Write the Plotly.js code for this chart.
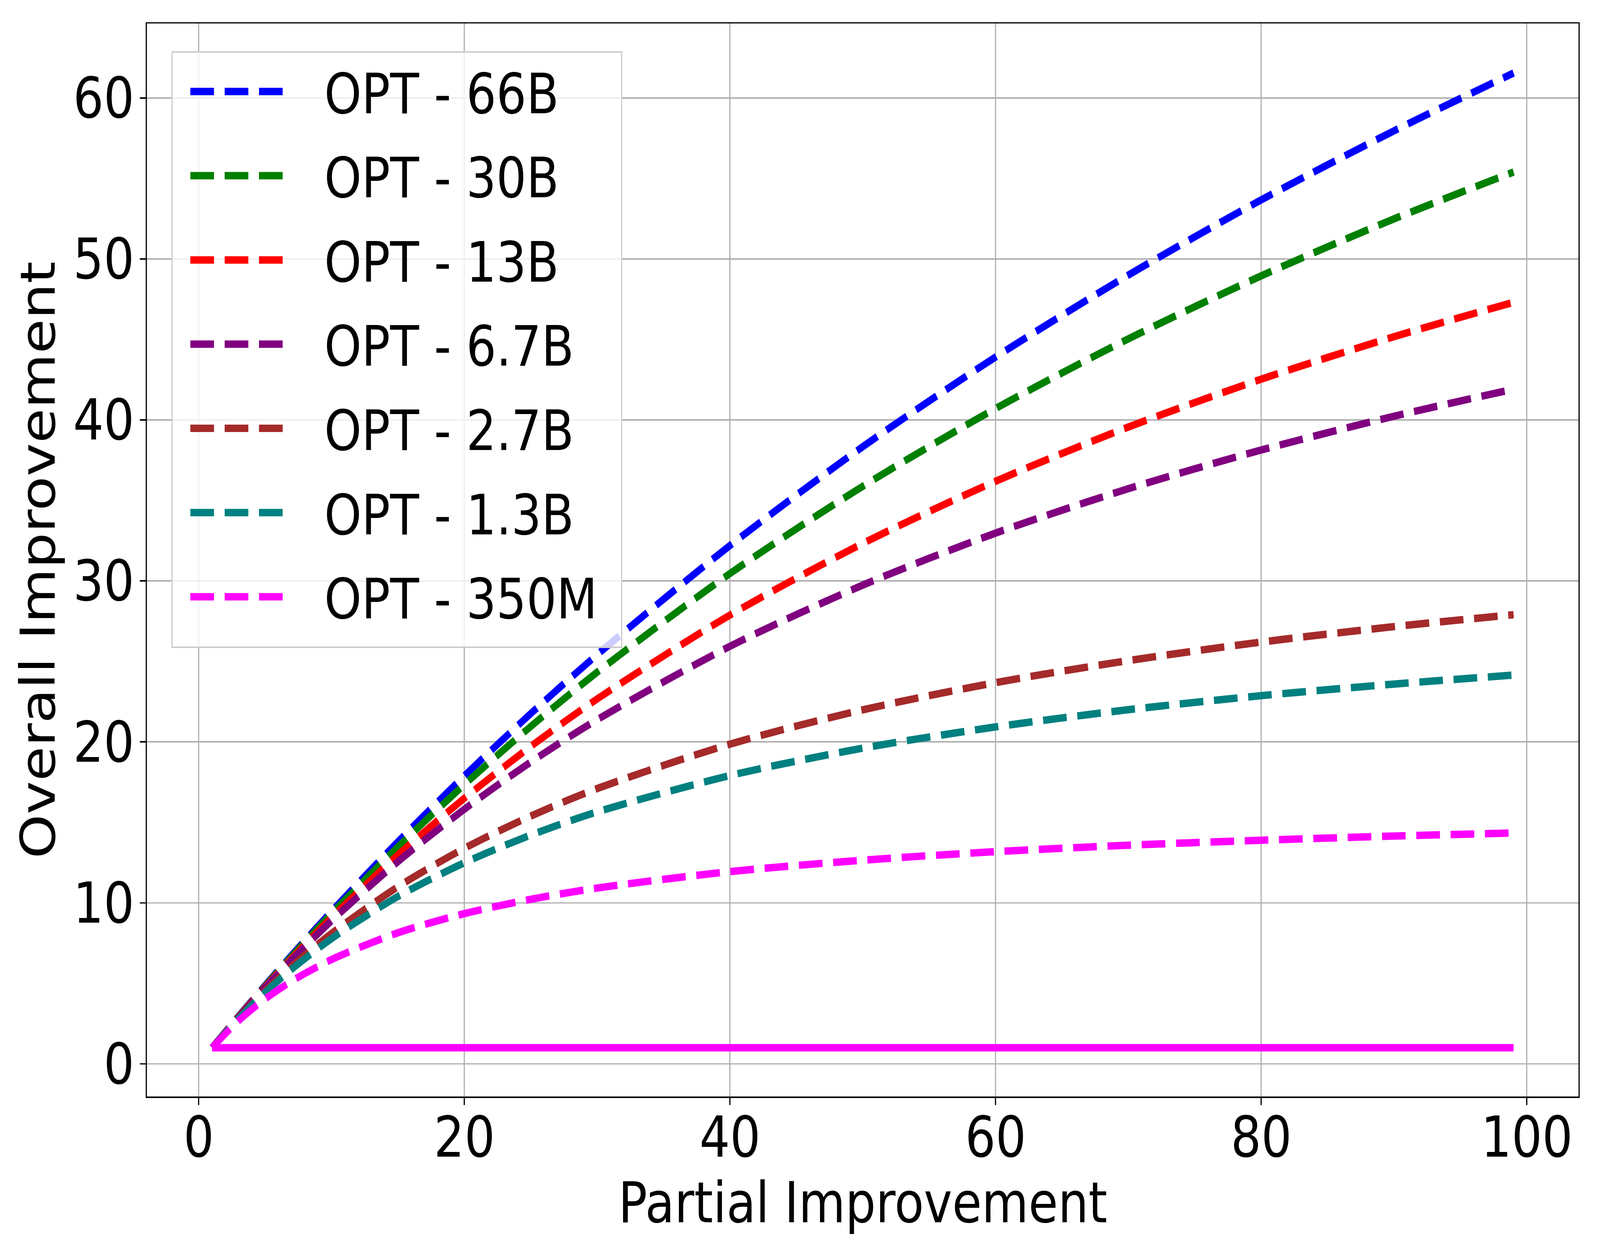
<!DOCTYPE html>
<html>
<head>
<meta charset="utf-8">
<script src="https://cdn.plot.ly/plotly-3.0.1.min.js"></script>
<style>
  html, body { margin: 0; padding: 0; background: #fff; overflow: hidden; }
  #wrap { overflow: hidden; }
  #chart { width: 4800px; height: 3200px; transform-origin: 0 0; }
</style>
</head>
<body>
<div id="wrap"><div id="chart"></div></div>
<script>
// partial improvement (x) and overall improvement per model
var partial = [1, 3, 5, 7, 10, 15, 20, 25, 30, 40, 50, 60, 70, 80, 90, 99];

var opt66b  = [1, 2.96, 4.88, 6.75, 9.47, 13.80, 17.89, 21.76, 25.42, 32.20, 38.34, 43.91, 49.00, 53.67, 57.96, 61.55];
var opt30b  = [1, 2.95, 4.84, 6.68, 9.33, 13.48, 17.35, 20.96, 24.33, 30.46, 35.88, 40.71, 45.04, 48.95, 52.49, 55.40];
var opt13b  = [1, 2.94, 4.79, 6.56, 9.09, 12.98, 16.50, 19.72, 22.67, 27.88, 32.33, 36.19, 39.56, 42.53, 45.17, 47.31];
var opt6_7b = [1, 2.92, 4.74, 6.46, 8.89, 12.56, 15.82, 18.75, 21.38, 25.94, 29.74, 32.97, 35.73, 38.13, 40.23, 41.91];
var opt2_7b = [1, 2.85, 4.53, 6.06, 8.10, 11.00, 13.39, 15.39, 17.10, 19.86, 21.99, 23.68, 25.05, 26.20, 27.16, 27.90];
var opt1_3b = [1, 2.82, 4.44, 5.88, 7.78, 10.40, 12.49, 14.21, 15.65, 17.91, 19.61, 20.93, 22.00, 22.87, 23.59, 24.15];
var opt350m = [1, 2.68, 4.03, 5.14, 6.48, 8.14, 9.33, 10.22, 10.92, 11.94, 12.65, 13.18, 13.58, 13.89, 14.15, 14.34];

// no-improvement baseline
var baseX = [1, 99];
var baseY = [1, 1];

var names  = ["OPT - 66B", "OPT - 30B", "OPT - 13B", "OPT - 6.7B", "OPT - 2.7B", "OPT - 1.3B", "OPT - 350M"];
var series = [opt66b, opt30b, opt13b, opt6_7b, opt2_7b, opt1_3b, opt350m];
var colors = ["#0000ff", "#008000", "#ff0000", "#800080", "#a52a2a", "#008080", "#ff00ff"];

var W = 4800, H = 3200;
var font = "DejaVu Sans";
var lw = 19;

var traces = [];
for (var i = 0; i < series.length; i++) {
    traces.push({
        x: partial,
        y: series[i],
        name: names[i],
        legendgroup: "g" + i,
        mode: "lines",
        line: { color: colors[i], width: lw, dash: "71px,32px", shape: "spline", smoothing: 0.8 }
    });
}
traces.push({
    x: baseX,
    y: baseY,
    mode: "lines",
    showlegend: false,
    hoverinfo: "skip",
    line: { color: "#ff00ff", width: lw }
});

var axisStyle = {
    showline: true,
    mirror: true,
    linecolor: "#000",
    linewidth: 3.5,
    ticks: "outside",
    ticklen: 18,
    tickwidth: 3.5,
    tickcolor: "#000",
    showgrid: true,
    gridcolor: "#b0b0b0",
    gridwidth: 3.5,
    zeroline: false,
    automargin: false,
    tickfont: { family: font, size: 144, color: "#000" }
};

var layout = {
    width: W,
    height: H,
    autosize: false,
    paper_bgcolor: "#fff",
    plot_bgcolor: "#fff",
    margin: { l: 441, r: 64, t: 60, b: 393, pad: 0 },
    font: { family: font, color: "#000" },
    xaxis: Object.assign({}, axisStyle, {
        range: [-3.9, 103.9],
        dtick: 20,
        tick0: 0,
        ticklabelstandoff: -40,
        title: { text: "Partial Improvement", font: { family: font, size: 144, color: "#000" }, standoff: 4 }
    }),
    yaxis: Object.assign({}, axisStyle, {
        range: [-2.03, 64.63],
        dtick: 10,
        tick0: 0,
        ticklabelstandoff: -12,
        title: { text: "Overall Improvement", font: { family: font, size: 144, color: "#000" }, standoff: 7 }
    }),
    showlegend: true,
    legend: {
        x: 0.017,
        y: 0.974,
        xanchor: "left",
        yanchor: "top",
        bgcolor: "rgba(255,255,255,0.8)",
        bordercolor: "#cccccc",
        borderwidth: 4,
        font: { family: font, size: 142, color: "#000" },
        itemwidth: 445,
        traceorder: "grouped",
        tracegroupgap: 28
    }
};

// the browser viewport may be smaller than 4800x3200: stretch the figure to fill it
var vw = window.innerWidth || W, vh = window.innerHeight || H;
var wrap = document.getElementById("wrap");
wrap.style.width = vw + "px";
wrap.style.height = vh + "px";
document.getElementById("chart").style.transform = "scale(" + (vw / W) + "," + (vh / H) + ")";

Plotly.newPlot("chart", traces, layout, { staticPlot: true, displayModeBar: false }).then(function (gd) {
    // legend samples: full line width, three dashes, inset like the original
    gd.querySelectorAll(".legendlines path").forEach(function (p) {
        p.style.strokeWidth = lw + "px";
        p.style.strokeDasharray = "0px,48px,71px,32px,71px,32px,71px,3000px";
    });
    // legend frame a little larger, as in the original
    var bg = gd.querySelector(".legend rect.bg");
    if (bg) {
        bg.setAttribute("width", parseFloat(bg.getAttribute("width")) + 65);
        bg.setAttribute("height", parseFloat(bg.getAttribute("height")) + 28);
    }
});
</script>
</body>
</html>
